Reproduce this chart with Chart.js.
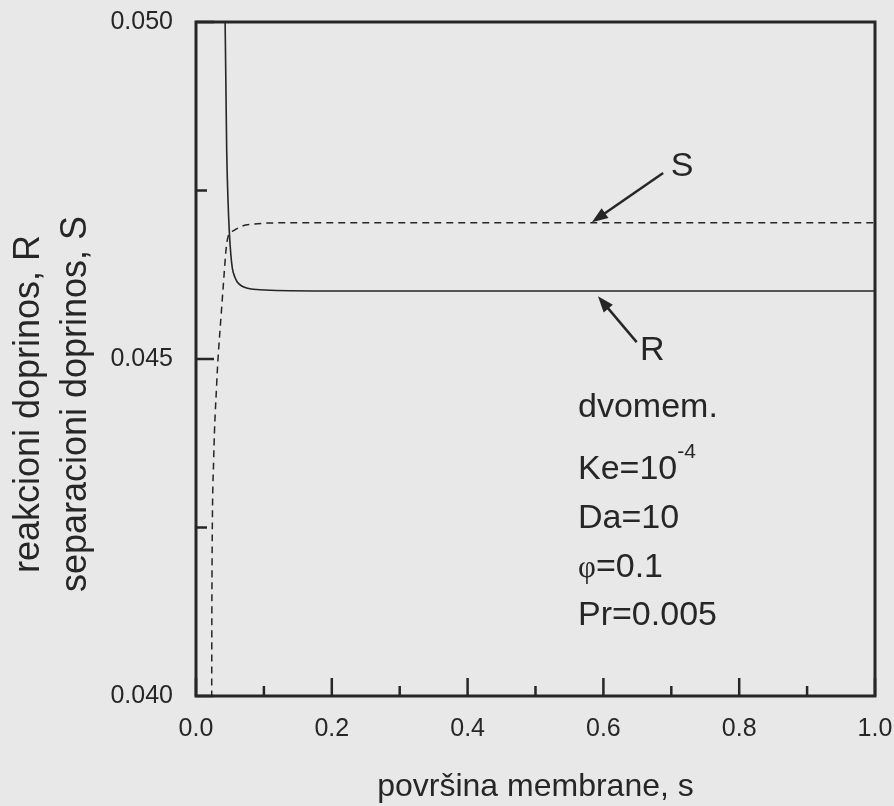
<!DOCTYPE html>
<html>
<head>
<meta charset="utf-8">
<title>R i S</title>
<script src="https://cdn.jsdelivr.net/npm/chart.js@4.4.1/dist/chart.umd.min.js"></script>
<style>
  html, body { margin: 0; padding: 0; background: #e8e8e8; }
  #wrap { width: 894px; height: 806px; }
</style>
</head>
<body>
<div id="wrap"><canvas id="myChart"></canvas></div>
<script>
// površina membrane (s) and the two curves
const sR   = [0.0425, 0.0440, 0.0452, 0.0470, 0.0490, 0.0513, 0.0535, 0.0570, 0.0610, 0.0680, 0.0760, 0.0900, 0.1100, 0.2, 0.4, 0.6, 0.8, 1.0];
const valR = [0.0503, 0.0491, 0.0481, 0.0474, 0.0469, 0.04655, 0.04635, 0.04622, 0.04614, 0.04608, 0.04605, 0.04603, 0.04602, 0.04601, 0.04601, 0.04601, 0.04601, 0.04601];

const sS   = [0.0231, 0.0233, 0.0238, 0.0260, 0.0305, 0.0324, 0.0368, 0.0410, 0.0442, 0.0471, 0.0510, 0.0545, 0.0673, 0.0840, 0.1200, 0.3, 0.5, 0.7, 1.0];
const valS = [0.0398, 0.0410, 0.0422, 0.0435, 0.04464, 0.0450, 0.04562, 0.0462, 0.04662, 0.04681, 0.04688, 0.0469, 0.04697, 0.047, 0.04702, 0.04702, 0.04702, 0.04702, 0.04702];

const xTickLabels = ['0.0', '0.2', '0.4', '0.6', '0.8', '1.0'];
const yTickLabels = ['0.040', '0.045', '0.050'];

const ink = '#262626';
const sans = '"Liberation Sans", Arial, sans-serif';

const toPoints = (xs, ys) => xs.map((v, i) => ({ x: v, y: ys[i] }));

// frame + inward tick marks
const frameTicks = {
  id: 'frameTicks',
  afterDatasetsDraw(chart) {
    const { ctx, chartArea: a, scales: { x, y } } = chart;
    ctx.save();
    ctx.strokeStyle = ink;
    ctx.lineWidth = 3;
    ctx.strokeRect(a.left, a.top, a.width, a.height);
    ctx.lineWidth = 2.5;
    x.ticks.forEach(t => {
      const px = x.getPixelForValue(t.value);
      const len = t.label ? 18 : 10;
      ctx.beginPath(); ctx.moveTo(px, a.bottom); ctx.lineTo(px, a.bottom - len); ctx.stroke();
    });
    y.ticks.forEach(t => {
      const py = y.getPixelForValue(t.value);
      const len = t.label ? 18 : 11;
      ctx.beginPath(); ctx.moveTo(a.left, py); ctx.lineTo(a.left + len, py); ctx.stroke();
    });
    ctx.restore();
  }
};

function arrow(ctx, x1, y1, x2, y2) {
  const ang = Math.atan2(y2 - y1, x2 - x1);
  const hl = 16, hw = 6;
  ctx.beginPath(); ctx.moveTo(x1, y1);
  ctx.lineTo(x2 - hl * 0.8 * Math.cos(ang), y2 - hl * 0.8 * Math.sin(ang)); ctx.stroke();
  ctx.beginPath();
  ctx.moveTo(x2, y2);
  ctx.lineTo(x2 - hl * Math.cos(ang) + hw * Math.sin(ang), y2 - hl * Math.sin(ang) - hw * Math.cos(ang));
  ctx.lineTo(x2 - hl * Math.cos(ang) - hw * Math.sin(ang), y2 - hl * Math.sin(ang) + hw * Math.cos(ang));
  ctx.closePath(); ctx.fill();
}

// labels, arrows, parameter block and the two-line y title
const notes = {
  id: 'notes',
  afterDraw(chart) {
    const { ctx, scales: { x, y } } = chart;
    const X = v => x.getPixelForValue(v), Y = v => y.getPixelForValue(v);
    ctx.save();
    ctx.fillStyle = ink; ctx.strokeStyle = ink; ctx.lineWidth = 2.5;

    arrow(ctx, X(0.688), Y(0.04776), X(0.583), Y(0.04703));
    arrow(ctx, X(0.649), Y(0.04525), X(0.592), Y(0.04593));

    ctx.font = '34px ' + sans;
    ctx.textAlign = 'center'; ctx.textBaseline = 'middle';
    ctx.fillText('S', X(0.716), Y(0.04786));
    ctx.fillText('R', X(0.672), Y(0.04513));

    ctx.textAlign = 'left'; ctx.textBaseline = 'alphabetic';
    const lx = X(0.5626);
    ctx.fillText('dvomem.', lx, Y(0.04414));
    ctx.fillText('Ke=10', lx, Y(0.04322));
    const kw = ctx.measureText('Ke=10').width;
    ctx.font = '21px ' + sans;
    ctx.fillText('-4', lx + kw, Y(0.04322) - 21);
    ctx.font = '34px ' + sans;
    ctx.fillText('Da=10', lx, Y(0.04249));
    ctx.font = '31px "Liberation Serif", serif';
    ctx.fillText('φ', lx, Y(0.04177));
    const pw = ctx.measureText('φ').width;
    ctx.font = '34px ' + sans;
    ctx.fillText('=0.1', lx + pw, Y(0.04177));
    ctx.fillText('Pr=0.005', lx, Y(0.04105));

    // y axis title, two rotated lines
    ctx.font = '36px ' + sans;
    ctx.translate(0, 404);
    ctx.rotate(-Math.PI / 2);
    ctx.textAlign = 'center'; ctx.textBaseline = 'alphabetic';
    ctx.fillText('reakcioni doprinos, R', 0, 39);
    ctx.fillText('separacioni doprinos, S', 0, 86);
    ctx.restore();
  }
};

const ctx = document.getElementById('myChart').getContext('2d');

new Chart(ctx, {
  type: 'scatter',
  data: {
    datasets: [
      {
        label: 'R',
        data: toPoints(sR, valR),
        showLine: true,
        borderColor: ink,
        borderWidth: 1.6,
        pointRadius: 0,
        cubicInterpolationMode: 'monotone'
      },
      {
        label: 'S',
        data: toPoints(sS, valS),
        showLine: true,
        borderColor: ink,
        borderWidth: 1.5,
        borderDash: [7, 5],
        pointRadius: 0,
        cubicInterpolationMode: 'monotone'
      }
    ]
  },
  options: {
    responsive: true,
    maintainAspectRatio: false,
    animation: false,
    layout: { padding: { top: 22, right: 19, left: 0, bottom: 0 } },
    plugins: {
      legend: { display: false },
      tooltip: { enabled: false }
    },
    scales: {
      x: {
        type: 'linear',
        min: 0, max: 1,
        grid: { display: false, drawTicks: false },
        border: { display: false },
        ticks: {
          stepSize: 0.1,
          autoSkip: false,
          maxRotation: 0,
          padding: 18,
          color: ink,
          font: { family: sans, size: 25 },
          callback: v => {
            const l = Number(v).toFixed(1);
            return xTickLabels.includes(l) ? l : '';
          }
        },
        title: {
          display: true,
          text: 'površina membrane, s',
          color: ink,
          font: { family: sans, size: 32 },
          padding: { top: 0, bottom: 0 }
        },
        afterFit: s => { s.height = 110; s.paddingLeft = 0; s.paddingRight = 0; }
      },
      y: {
        type: 'linear',
        min: 0.04, max: 0.05,
        grid: { display: false, drawTicks: false },
        border: { display: false },
        ticks: {
          stepSize: 0.0025,
          autoSkip: false,
          padding: 23,
          color: ink,
          font: { family: sans, size: 25 },
          callback: v => {
            const l = Number(v).toFixed(3);
            return yTickLabels.includes(l) && Math.abs(v * 1000 - Math.round(v * 1000)) < 1e-6 ? l : '';
          }
        },
        afterFit: s => { s.width = 196; s.paddingTop = 0; s.paddingBottom = 0; }
      }
    }
  },
  plugins: [frameTicks, notes]
});
</script>
</body>
</html>
